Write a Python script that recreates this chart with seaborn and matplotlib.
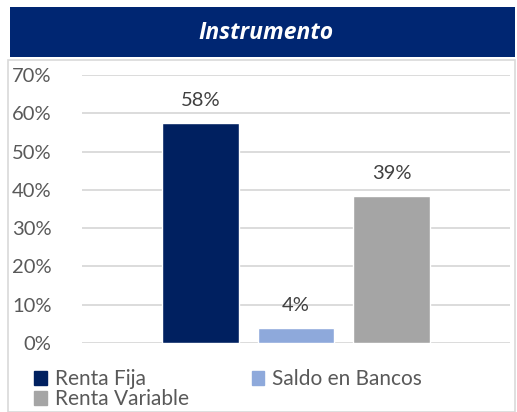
import pandas as pd
import seaborn as sns
import matplotlib.pyplot as plt
from matplotlib.patches import Rectangle, Patch

# data
series = ["Renta Fija", "Saldo en Bancos", "Renta Variable"]
values = [0.574, 0.039, 0.384]
labels = ["58%", "4%", "39%"]
colors = ["#002060", "#8EA9DB", "#A5A5A5"]
yticks = [0, 0.1, 0.2, 0.3, 0.4, 0.5, 0.6, 0.7]
ytick_labels = ["0%", "10%", "20%", "30%", "40%", "50%", "60%", "70%"]

df = pd.DataFrame({"grupo": ["Instrumento"] * 3, "serie": series, "valor": values})

sns.set_style("white")
plt.rcParams["font.family"] = ["Lato", "DejaVu Sans"]

W, H = 517, 412
fig = plt.figure(figsize=(W / 100, H / 100), dpi=100)

# outer frame and title banner
fig.patches.append(Rectangle((8 / W, 0), 507 / W, 352 / H, transform=fig.transFigure,
                             fill=False, edgecolor="#D9D9D9", linewidth=1.2))
fig.patches.append(Rectangle((10 / W, 1 - 57 / H), 505 / W, 50 / H, transform=fig.transFigure,
                             facecolor="#002672", edgecolor="none"))
fig.text(266 / W, 1 - 33 / H, "Instrumento", color="white", fontsize=16.5, fontweight="bold",
         fontstyle="italic", ha="center", va="center", family=["Open Sans", "DejaVu Sans"])

ax = fig.add_axes([82 / W, 1 - 343 / H, 428 / W, (343 - 75) / H])
sns.barplot(data=df, x="grupo", y="valor", hue="serie", hue_order=series, palette=colors,
            width=0.67, gap=0.2, saturation=1, ax=ax, legend=False)

ax.set_xlim(-0.5, 0.5)
ax.set_ylim(0, 0.7)
ax.set_yticks(yticks)
ax.set_yticklabels(ytick_labels)
ax.set_xticks([])
ax.set_xlabel("")
ax.set_ylabel("")
ax.tick_params(axis="y", length=0, pad=22, labelsize=14.5, labelcolor="#595959")
ax.yaxis.grid(True, color="#D9D9D9", linewidth=1.3)
ax.set_axisbelow(True)
for s in ax.spines.values():
    s.set_visible(False)

for cont, lab in zip(ax.containers, labels):
    ax.bar_label(cont, labels=[lab], padding=10, fontsize=14.5, color="#404040")

# legend: row 1 Renta Fija / Saldo en Bancos, row 2 Renta Variable
handles = [Patch(color=c, label=s) for s, c in zip(series, colors)]
order = [0, 2, 1]
fig.legend([handles[i] for i in order], [series[i] for i in order], ncol=2,
           loc="upper left", bbox_to_anchor=(26 / W, 1 - 361 / H), frameon=False,
           fontsize=15, labelcolor="#595959", handlelength=0.6, handleheight=0.6,
           handletextpad=0.4, columnspacing=3.0, labelspacing=0.0, borderaxespad=0)

fig.savefig("out.png", dpi=100)
